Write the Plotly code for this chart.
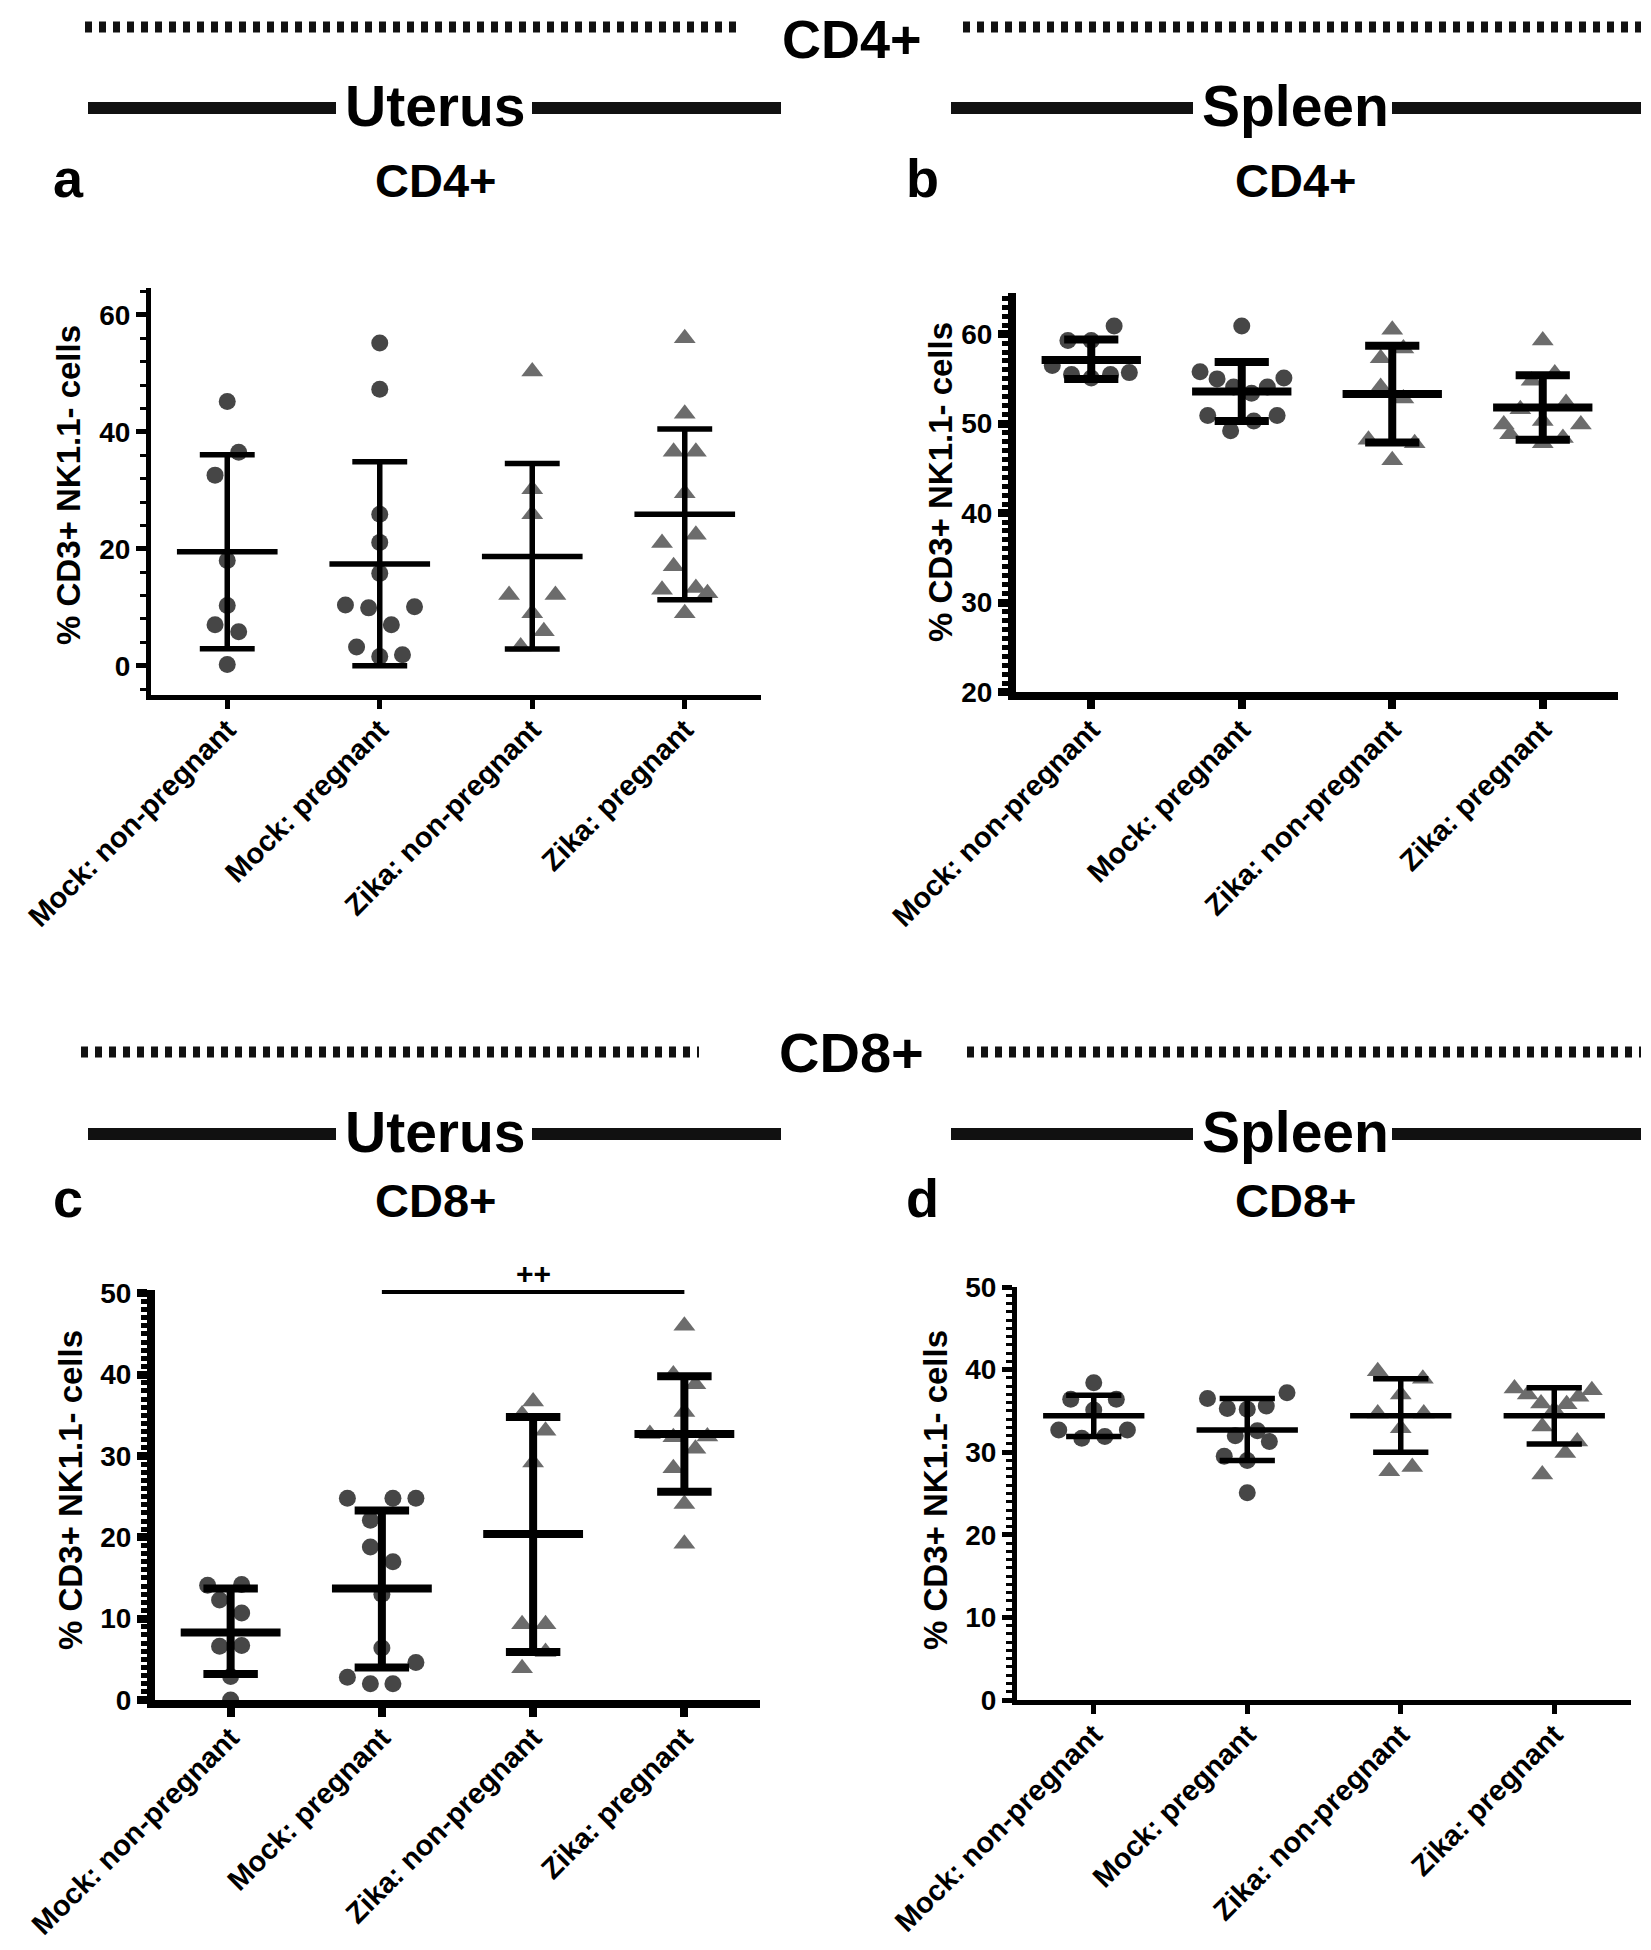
import plotly.graph_objects as go

# page body has an 8px default margin, so the figure is laid out 8px inside the window
OFF = 8
W, H = 1651 - 2 * OFF, 1950 - 2 * OFF
FONT = "Liberation Sans, Arial, sans-serif"

categories = ["Mock: non-pregnant", "Mock: pregnant", "Zika: non-pregnant", "Zika: pregnant"]
y_title = "% CD3+ NK1.1- cells"

# ---------------- Panel a : Uterus CD4+ ----------------
a_vals = [
    [45.2, 36.5, 32.6, 18.0, 10.3, 7.0, 5.8, 0.2],
    [55.2, 47.3, 25.9, 21.1, 15.8, 10.4, 9.9, 10.1, 7.0, 3.2, 1.6, 1.9],
    [50.3, 30.2, 25.9, 12.1, 12.1, 9.0, 5.9, 3.3],
    [56.0, 43.1, 36.6, 36.6, 29.5, 22.4, 21.0, 17.0, 13.0, 13.3, 12.4, 9.0],
]
a_dx = [
    [0, .075, -.08, 0, 0, -.08, .075, 0],
    [0, 0, 0, 0, 0, -.225, -.073, .228, .076, -.152, 0, .149],
    [0, 0, 0, -.152, .152, 0, .076, -.076],
    [0, 0, -.073, .073, 0, .073, -.149, -.073, -.149, .073, .149, 0],
]
a_mean = [19.5, 17.4, 18.7, 25.9]
a_low = [2.9, 0.0, 2.85, 11.3]
a_high = [36.1, 34.9, 34.6, 40.5]

# ---------------- Panel b : Spleen CD4+ ----------------
b_vals = [
    [60.9, 59.3, 59.3, 56.5, 55.5, 55.1, 55.5, 55.7],
    [60.9, 55.8, 55.0, 55.1, 54.1, 54.1, 53.4, 50.9, 50.9, 50.3, 49.2],
    [60.5, 58.4, 57.3, 54.1, 52.8, 48.2, 47.8, 45.9],
    [59.3, 55.6, 54.8, 52.3, 51.6, 50.3, 49.9, 49.9, 48.8, 48.4, 47.8],
]
b_dx = [
    [.152, -.155, 0, -.259, -.131, 0, .128, .253],
    [0, -.277, -.164, .28, -.054, .17, .065, -.226, .235, .08, -.074],
    [0, .074, -.077, -.077, .074, -.158, .149, 0],
    [0, .08, -.074, .155, -.149, 0, -.259, .253, -.217, .134, 0],
]
b_mean = [57.1, 53.6, 53.3, 51.8]
b_low = [55.0, 50.3, 47.9, 48.2]
b_high = [59.4, 56.9, 58.7, 55.4]

# ---------------- Panel c : Uterus CD8+ ----------------
c_vals = [
    [14.1, 14.2, 12.3, 10.7, 6.6, 6.7, 2.9, 0.0],
    [24.8, 24.8, 24.8, 22.1, 18.8, 17.0, 13.0, 6.4, 4.6, 2.8, 2.0, 2.0],
    [36.7, 35.1, 33.1, 29.2, 9.3, 9.3, 5.9, 3.9],
    [46.0, 40.0, 38.8, 35.4, 32.7, 32.3, 32.4, 30.9, 28.5, 24.1, 19.2],
]
c_dx = [
    [-.152, .073, -.073, .073, -.073, .073, 0, 0],
    [-.228, .073, .225, -.076, -.076, .073, 0, 0, .225, -.228, -.076, .073],
    [0, -.073, .082, 0, -.073, .082, .082, -.073],
    [0, -.073, .073, 0, -.228, -.073, .152, .073, -.073, 0, 0],
]
c_mean = [8.3, 13.7, 20.4, 32.7]
c_low = [3.2, 4.0, 5.9, 25.6]
c_high = [13.7, 23.3, 34.8, 39.8]
c_sig_pair = [1, 3]
c_sig_level = 50.15
c_sig_text = "++"

# ---------------- Panel d : Spleen CD8+ ----------------
d_vals = [
    [38.4, 36.4, 36.4, 35.1, 32.7, 32.7, 31.7, 31.9],
    [37.2, 36.5, 35.3, 35.2, 35.6, 32.6, 32.0, 31.3, 29.5, 29.0, 25.1],
    [39.8, 38.9, 37.0, 34.7, 34.7, 32.9, 28.2, 27.7],
    [37.7, 37.0, 37.5, 36.7, 35.9, 35.8, 35.1, 33.1, 31.3, 29.9, 27.3],
]
d_dx = [
    [0, -.15, .147, 0, -.228, .219, -.078, .072],
    [.259, -.259, -.13, 0, .124, .066, -.078, .144, -.15, 0, 0],
    [-.15, .144, 0, -.15, .15, 0, .075, -.075],
    [-.259, -.173, .245, .158, -.086, .081, 0, -.078, .15, .072, -.078],
]
d_mean = [34.4, 32.7, 34.4, 34.4]
d_low = [31.9, 29.0, 30.0, 31.0]
d_high = [36.9, 36.5, 38.9, 37.8]

# ---------------- styling ----------------
symbols = ["circle", "circle", "triangle-up", "triangle-up"]
colors = ["#464646", "#464646", "#6c6c6c", "#6c6c6c"]
sizes = [17, 17, 19, 19]


def PX(x):  # window pixel -> paper x
    return (x - OFF) / W


def PY(y):  # window pixel -> paper y
    return 1 - (y - OFF) / H


panels = [
    dict(ax="", vals=a_vals, dx=a_dx, mean=a_mean, low=a_low, high=a_high,
         px=(151, 761), py=(288, 695), yr=(-5, 64.6), dt=20, mdt=4, aw=5, bw=5.5),
    dict(ax="2", vals=b_vals, dx=b_dx, mean=b_mean, low=b_low, high=b_high,
         px=(1016, 1618), py=(293, 692), yr=(20, 64.6), dt=10, mdt=1, aw=8, bw=8),
    dict(ax="3", vals=c_vals, dx=c_dx, mean=c_mean, low=c_low, high=c_high,
         px=(155, 760), py=(1290, 1700), yr=(0, 50.4), dt=10, mdt=1, aw=8, bw=8),
    dict(ax="4", vals=d_vals, dx=d_dx, mean=d_mean, low=d_low, high=d_high,
         px=(1017, 1631), py=(1287, 1700), yr=(0, 50), dt=10, mdt=1, aw=5, bw=5.5),
]

CAP = 0.18
MEANW = 0.33

fig = go.Figure()
layout = dict(
    width=W, height=H, margin=dict(l=0, r=0, t=0, b=0, autoexpand=False),
    paper_bgcolor="white", plot_bgcolor="white", showlegend=False,
    font=dict(family=FONT, color="black", size=24, weight="bold"),
)

for p in panels:
    xa, ya = "x" + p["ax"], "y" + p["ax"]
    # data points
    for gi in range(4):
        fig.add_trace(go.Scatter(
            x=[gi + d for d in p["dx"][gi]], y=p["vals"][gi],
            mode="markers", xaxis=xa, yaxis=ya, cliponaxis=False,
            marker=dict(symbol=symbols[gi], size=sizes[gi], color=colors[gi],
                        line=dict(width=0)),
        ))
    # mean and SD bars
    ex, ey = [], []
    for gi in range(4):
        m, lo, hi = p["mean"][gi], p["low"][gi], p["high"][gi]
        ex += [gi, gi, None, gi - CAP, gi + CAP, None, gi - CAP, gi + CAP, None,
               gi - MEANW, gi + MEANW, None]
        ey += [lo, hi, None, lo, lo, None, hi, hi, None, m, m, None]
    fig.add_trace(go.Scatter(x=ex, y=ey, mode="lines", xaxis=xa, yaxis=ya,
                             line=dict(color="black", width=p["bw"])))

    xk = "xaxis" + p["ax"]
    yk = "yaxis" + p["ax"]
    layout[xk] = dict(
        domain=[PX(p["px"][0]), PX(p["px"][1])], anchor=ya, automargin=False,
        range=[-0.5, 3.5], tickmode="array", tickvals=[0, 1, 2, 3], ticktext=categories,
        tickangle=-45, ticks="outside", ticklen=9, tickwidth=p["aw"], tickcolor="black",
        ticklabelstandoff=-8,
        showline=True, linewidth=p["aw"], linecolor="black",
        showgrid=False, zeroline=False,
        tickfont=dict(family=FONT, size=29, color="black", weight="bold"),
    )
    layout[yk] = dict(
        domain=[PY(p["py"][1]), PY(p["py"][0])], anchor=xa, automargin=False,
        range=list(p["yr"]), tickmode="linear", tick0=0, dtick=p["dt"],
        ticks="outside", ticklen=10, tickwidth=p["aw"], tickcolor="black",
        showline=True, linewidth=p["aw"], linecolor="black",
        showgrid=False, zeroline=False,
        minor=dict(ticks="outside", tick0=0, dtick=p["mdt"], ticklen=6,
                   tickwidth=max(3, p["aw"] - 3), tickcolor="black", showgrid=False),
        tickfont=dict(family=FONT, size=28, color="black", weight="bold"),
    )

# significance bar in panel c
fig.add_trace(go.Scatter(x=c_sig_pair, y=[c_sig_level, c_sig_level], mode="lines",
                         xaxis="x3", yaxis="y3", line=dict(color="black", width=4)))

annotations = []


def ann(text, x, y, size, **kw):
    d = dict(text=text, x=PX(x), y=PY(y), xref="paper", yref="paper",
             showarrow=False, xanchor="center", yanchor="middle", borderpad=0,
             font=dict(family=FONT, size=size, color="black", weight="bold"))
    d.update(kw)
    annotations.append(d)


# section headers
ann("CD4+", 852, OFF, 54, yanchor="top")
ann("CD8+", 852, 1052, 56)
for yy in (106, 1132):
    ann("Uterus", 435, yy, 57)
    ann("Spleen", 1295, yy, 57)
# panel letters and titles
ann("a", 68, 178, 54)
ann("CD4+", 435, 180, 47)
ann("b", 922, 178, 54)
ann("CD4+", 1295, 180, 47)
ann("c", 68, 1198, 54)
ann("CD8+", 435, 1200, 47)
ann("d", 922, 1198, 54)
ann("CD8+", 1295, 1200, 47)
# y-axis titles
ann(y_title, 68, 485, 33, textangle=-90)
ann(y_title, 940, 482, 33, textangle=-90)
ann(y_title, 70, 1490, 33, textangle=-90)
ann(y_title, 935, 1490, 33, textangle=-90)

# significance text
annotations.append(dict(text=c_sig_text, x=sum(c_sig_pair) / 2, y=c_sig_level, xref="x3", yref="y3",
                        showarrow=False, yanchor="bottom", yshift=0,
                        font=dict(family=FONT, size=30, color="black", weight="bold")))

shapes = []


def hline(x0, x1, y, width, dash="solid"):
    shapes.append(dict(type="line", xref="paper", yref="paper",
                       x0=PX(x0), x1=PX(x1), y0=PY(y), y1=PY(y),
                       line=dict(color="#111111", width=width, dash=dash)))


# dotted header lines
hline(85, 740, 27, 11, "7px,7px")
hline(963, 1641, 27, 11, "7px,7px")
hline(81, 699, 1052, 11, "7px,7px")
hline(967, 1641, 1052, 11, "7px,7px")
# solid tissue header lines
for yy in (108, 1134):
    hline(88, 336, yy, 12)
    hline(532, 781, yy, 12)
    hline(951, 1193, yy, 12)
    hline(1392, 1641, yy, 12)

layout["annotations"] = annotations
layout["shapes"] = shapes
fig.update_layout(**layout)
fig.write_html("out.html")
